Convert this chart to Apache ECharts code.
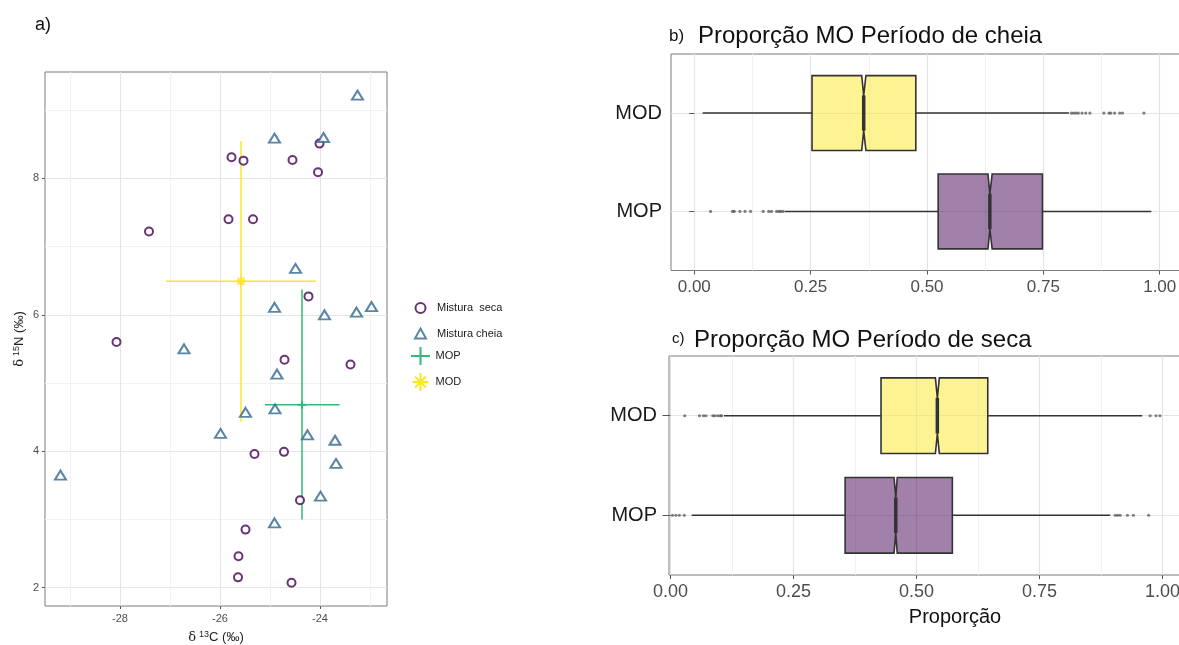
<!DOCTYPE html>
<html><head><meta charset="utf-8">
<script src="https://cdn.jsdelivr.net/npm/echarts@6/dist/echarts.min.js"></script>
<style>html,body{margin:0;padding:0;background:#fff}#c{width:1179px;height:645px}</style>
</head><body><div id="c"></div>
<script>
// ---------- Panel a) data ----------
const SECA_C13 = [-27.42,-25.77,-25.53,-24.55,-24.01,-24.04,-25.83,-25.34,-24.23,-28.07,-24.71,-23.39,-25.31,-24.72,-24.40,-25.49,-25.63,-25.64,-24.57];
const SECA_N15 = [7.22,8.31,8.26,8.27,8.51,8.09,7.40,7.40,6.27,5.60,5.34,5.27,3.96,3.99,3.28,2.85,2.46,2.15,2.07];
const CHEIA_C13 = [-23.25,-24.91,-23.93,-24.49,-24.91,-23.91,-23.27,-22.97,-26.72,-24.86,-25.49,-24.90,-25.99,-24.25,-23.70,-23.68,-29.19,-23.99,-24.91];
const CHEIA_N15 = [9.22,8.59,8.60,6.68,6.11,6.00,6.04,6.12,5.50,5.13,4.57,4.62,4.26,4.24,4.16,3.82,3.65,3.34,2.95];
// sources: [mean C13, mean N15, C13 low, C13 high, N15 low, N15 high]
const MOP_SRC = [-24.36, 4.68, -25.10, -23.61, 3.00, 6.37];
const MOD_SRC = [-25.58, 6.49, -27.08, -24.08, 4.43, 8.55];
const X_TICKS_A = [-28, -26, -24];
const X_MINOR_A = [-29, -27, -25, -23];
const Y_TICKS_A = [2, 4, 6, 8];
const Y_MINOR_A = [3, 5, 7, 9];

// ---------- Panels b) c) data ----------
const CATS = ['MOP', 'MOD'];            // y position 1, 2
const PROP_TICKS = [0, 0.25, 0.5, 0.75, 1];
const PROP_MINOR = [0.125, 0.375, 0.625, 0.875];
// [whisker low, Q1, notch low, median, notch high, Q3, whisker high]
const B_MOD = [0.018, 0.253, 0.3597, 0.364, 0.3688, 0.476, 0.805];
const B_MOP = [0.195, 0.524, 0.631, 0.635, 0.640, 0.748, 0.982];
const C_MOD = [0.109, 0.428, 0.5385, 0.5425, 0.5466, 0.645, 0.959];
const C_MOP = [0.043, 0.355, 0.4545, 0.458, 0.461, 0.573, 0.894];
const B_MOD_OUT = [0.810,0.815,0.820,0.825,0.833,0.841,0.850,0.880,0.891,0.895,0.903,0.914,0.920,0.966];
const B_MOP_OUT = [0.035,0.082,0.086,0.098,0.109,0.121,0.148,0.160,0.166,0.177,0.182,0.186,0.191];
const C_MOD_OUT = [0.029,0.059,0.067,0.072,0.086,0.090,0.096,0.101,0.104,0.975,0.987,0.995];
const C_MOP_OUT = [0.004,0.011,0.018,0.028,0.904,0.909,0.914,0.929,0.941,0.972];

const FONT = 'Liberation Sans, Arial, sans-serif';
const COL_SECA = '#440154', COL_CHEIA = '#31688E', COL_MOP = '#35B779', COL_MOD = '#FDE725';
const FILL_MOD = 'rgba(253,231,37,0.5)', FILL_MOP = 'rgba(68,1,84,0.5)';
const GRID_MAJ = '#E4E4E4', GRID_MIN = '#F1F1F1', BORDER = '#7a7a7a';

function renderCross(params, api) {
  const x = api.value(0), y = api.value(1);
  const xl = api.value(2), xh = api.value(3), yl = api.value(4), yh = api.value(5);
  const col = api.visual('color');
  const a = api.coord([xl, y]), b = api.coord([xh, y]);
  const c = api.coord([x, yl]), d = api.coord([x, yh]);
  const m = api.coord([x, y]);
  const st = {stroke: col, lineWidth: 1.5};
  const ch = [
    {type: 'line', shape: {x1: a[0], y1: a[1], x2: b[0], y2: b[1]}, style: st},
    {type: 'line', shape: {x1: c[0], y1: c[1], x2: d[0], y2: d[1]}, style: st}
  ];
  if (params.seriesName === 'MOD') {
    const r = 3.5;
    ch.push({type: 'line', shape: {x1: m[0]-r, y1: m[1]-r, x2: m[0]+r, y2: m[1]+r}, style: st});
    ch.push({type: 'line', shape: {x1: m[0]-r, y1: m[1]+r, x2: m[0]+r, y2: m[1]-r}, style: st});
    ch.push({type: 'line', shape: {x1: m[0]-4.5, y1: m[1], x2: m[0]+4.5, y2: m[1]}, style: {stroke: col, lineWidth: 2.5}});
    ch.push({type: 'line', shape: {x1: m[0], y1: m[1]-4.5, x2: m[0], y2: m[1]+4.5}, style: {stroke: col, lineWidth: 2.5}});
  } else {
    ch.push({type: 'line', shape: {x1: m[0]-4, y1: m[1], x2: m[0]+4, y2: m[1]}, style: {stroke: col, lineWidth: 2}});
    ch.push({type: 'line', shape: {x1: m[0], y1: m[1]-4, x2: m[0], y2: m[1]+4}, style: {stroke: col, lineWidth: 2}});
  }
  return {type: 'group', children: ch};
}

function renderBox(params, api) {
  const c = api.value(0);
  const wl = api.value(1), q1 = api.value(2), nl = api.value(3), md = api.value(4),
        nh = api.value(5), q3 = api.value(6), wh = api.value(7);
  const H = 0.38, h = 0.18;
  const P = (x, y) => api.coord([x, y]);
  const pts = [P(q1, c+H), P(nl, c+H), P(md, c+h), P(nh, c+H), P(q3, c+H),
               P(q3, c-H), P(nh, c-H), P(md, c-h), P(nl, c-H), P(q1, c-H)];
  const stroke = '#333333';
  const w1 = P(wl, c), w2 = P(q1, c), w3 = P(q3, c), w4 = P(wh, c);
  const m1 = P(md, c+h), m2 = P(md, c-h);
  return {type: 'group', children: [
    {type: 'line', shape: {x1: w1[0], y1: w1[1], x2: w2[0], y2: w2[1]}, style: {stroke, lineWidth: 1.6}},
    {type: 'line', shape: {x1: w3[0], y1: w3[1], x2: w4[0], y2: w4[1]}, style: {stroke, lineWidth: 1.6}},
    {type: 'polygon', shape: {points: pts}, style: {fill: api.visual('color'), stroke, lineWidth: 1.6}},
    {type: 'line', shape: {x1: m1[0], y1: m1[1], x2: m2[0], y2: m2[1]}, style: {stroke, lineWidth: 3.5}}
  ]};
}

const tickLab = {color: '#4D4D4D', fontFamily: FONT};

function propX(gridIndex, minV, fs) {
  return [
    {gridIndex, type: 'value', min: minV, max: 1.05,
     axisLine: {show: false},
     axisTick: {customValues: PROP_TICKS, length: 4, lineStyle: {color: '#555'}},
     axisLabel: Object.assign({customValues: PROP_TICKS, fontSize: fs, margin: 8, formatter: v => v.toFixed(2)}, tickLab),
     splitLine: {show: true, lineStyle: {color: GRID_MAJ, width: 1.2}}},
    {gridIndex, type: 'value', min: minV, max: 1.05, position: 'bottom',
     axisLine: {show: false}, axisTick: {show: false, customValues: PROP_MINOR},
     axisLabel: {show: false, customValues: PROP_MINOR},
     splitLine: {show: true, lineStyle: {color: GRID_MIN, width: 1}}}
  ];
}
function propY(gridIndex, margin, tickLen) {
  return {gridIndex, type: 'value', min: 0.4, max: 2.6,
    axisLine: {show: false},
    axisTick: {customValues: [1, 2], length: tickLen, lineStyle: {color: '#555'}},
    axisLabel: {customValues: [1, 2], fontSize: 20, color: '#1a1a1a', fontFamily: FONT, margin,
                formatter: v => CATS[Math.round(v) - 1]},
    splitLine: {show: true, lineStyle: {color: GRID_MAJ, width: 1.2}}};
}

const outSeries = (xi, yi, arr, cat) => ({
  type: 'scatter', xAxisIndex: xi, yAxisIndex: yi, silent: true,
  symbol: 'circle', symbolSize: 3.2,
  itemStyle: {color: 'rgba(50,50,50,0.75)'},
  data: arr.map(v => [v, cat]), z: 3
});
const boxSeries = (xi, yi, mop, mod) => ({
  type: 'custom', xAxisIndex: xi, yAxisIndex: yi, silent: true,
  renderItem: renderBox,
  encode: {x: [1,2,3,4,5,6,7], y: 0},
  data: [
    {value: [1].concat(mop), itemStyle: {color: FILL_MOP}},
    {value: [2].concat(mod), itemStyle: {color: FILL_MOD}}
  ], z: 2
});

const gridBase = {show: true, borderColor: BORDER, borderWidth: 1, containLabel: false, outerBoundsMode: 'none'};

const option = {
  animation: false,
  backgroundColor: '#fff',
  textStyle: {fontFamily: FONT},
  title: [
    {text: 'a)', left: 35, top: 16, padding: 0, textStyle: {fontSize: 18, fontWeight: 'normal', color: '#111', fontFamily: FONT}},
    {text: 'b)', left: 669, top: 28, padding: 0, textStyle: {fontSize: 17, fontWeight: 'normal', color: '#111', fontFamily: FONT}},
    {text: 'Proporção MO Período de cheia', left: 698, top: 24, padding: 0, textStyle: {fontSize: 24, fontWeight: 'normal', color: '#111', fontFamily: FONT}},
    {text: 'c)', left: 672, top: 331, padding: 0, textStyle: {fontSize: 15, fontWeight: 'normal', color: '#111', fontFamily: FONT}},
    {text: 'Proporção MO Período de seca', left: 694, top: 328, padding: 0, textStyle: {fontSize: 24, fontWeight: 'normal', color: '#111', fontFamily: FONT}},
    {text: 'Proporção', left: 955, top: 607, textAlign: 'center', padding: 0, textStyle: {fontSize: 20, fontWeight: 'normal', color: '#111', fontFamily: FONT}}
  ],
  legend: [
    {data: ['Mistura  seca', 'Mistura cheia'], orient: 'vertical', left: 414, top: 302,
     itemWidth: 11, itemHeight: 10, itemGap: 13.5, padding: 0, selectedMode: false,
     itemStyle: {borderWidth: 2},
     textStyle: {fontSize: 11, color: '#1a1a1a', fontFamily: FONT, padding: [0, 0, 0, 6]}},
    {data: [
       {name: 'MOP', icon: 'path://M0,9L19,9M9.5,0L9.5,18', itemStyle: {color: 'transparent', borderColor: COL_MOP, borderWidth: 2}},
       {name: 'MOD', icon: 'path://M1.5,9L17.5,9M9.5,0L9.5,18M4,3.5L15,14.5M4,14.5L15,3.5', itemStyle: {color: 'transparent', borderColor: COL_MOD, borderWidth: 2}}
     ], orient: 'vertical', left: 410, top: 346,
     itemWidth: 20, itemHeight: 18, itemGap: 6, padding: 0, selectedMode: false,
     textStyle: {fontSize: 11, color: '#1a1a1a', fontFamily: FONT}}
  ],
  grid: [
    Object.assign({left: 45, top: 72, width: 342, height: 534}, gridBase),
    Object.assign({left: 671, top: 54, width: 512, height: 216.5}, gridBase),
    Object.assign({left: 669, top: 356, width: 518, height: 219}, gridBase)
  ],
  xAxis: [
    {gridIndex: 0, type: 'value', min: -29.5, max: -22.66,
     axisLine: {show: false},
     axisTick: {customValues: X_TICKS_A, length: 3, lineStyle: {color: '#555'}},
     axisLabel: Object.assign({customValues: X_TICKS_A, fontSize: 11, margin: 7}, tickLab),
     splitLine: {show: true, lineStyle: {color: GRID_MAJ, width: 1}},
     name: '{d|δ}{s|13}C (‰)', nameLocation: 'middle', nameGap: 24,
     nameTextStyle: {fontSize: 13, color: '#222', fontFamily: FONT,
       rich: {d: {fontSize: 13, color: '#222', fontFamily: 'DejaVu Serif', padding: [0, 3, 0, 0]},
              s: {fontSize: 9, color: '#222', fontFamily: FONT, padding: [0, 0, 6, 0]}}}},
    {gridIndex: 0, type: 'value', min: -29.5, max: -22.66, position: 'bottom',
     axisLine: {show: false}, axisTick: {show: false, customValues: X_MINOR_A},
     axisLabel: {show: false, customValues: X_MINOR_A},
     splitLine: {show: true, lineStyle: {color: GRID_MIN, width: 1}}},
    ...propX(1, -0.05, 17),
    ...propX(2, -0.003, 18)
  ],
  yAxis: [
    {gridIndex: 0, type: 'value', min: 1.73, max: 9.56,
     axisLine: {show: false},
     axisTick: {customValues: Y_TICKS_A, length: 3, lineStyle: {color: '#555'}},
     axisLabel: Object.assign({customValues: Y_TICKS_A, fontSize: 11, margin: 6}, tickLab),
     splitLine: {show: true, lineStyle: {color: GRID_MAJ, width: 1}},
     name: '{d|δ}{s|15}N (‰)', nameLocation: 'middle', nameGap: 18,
     nameTextStyle: {fontSize: 13, color: '#222', fontFamily: FONT,
       rich: {d: {fontSize: 13, color: '#222', fontFamily: 'DejaVu Serif', padding: [0, 3, 0, 0]},
              s: {fontSize: 9, color: '#222', fontFamily: FONT, padding: [0, 0, 6, 0]}}}},
    {gridIndex: 0, type: 'value', min: 1.73, max: 9.56, position: 'left',
     axisLine: {show: false}, axisTick: {show: false, customValues: Y_MINOR_A},
     axisLabel: {show: false, customValues: Y_MINOR_A},
     splitLine: {show: true, lineStyle: {color: GRID_MIN, width: 1}}},
    propY(1, 9, 5),
    propY(2, 12, 8)
  ],
  series: [
    {name: 'Mistura  seca', type: 'scatter', xAxisIndex: 0, yAxisIndex: 0,
     symbol: 'emptyCircle', symbolSize: 8,
     itemStyle: {color: COL_SECA, borderColor: COL_SECA, borderWidth: 2.2},
     data: SECA_C13.map((x, i) => [x, SECA_N15[i]]), z: 4},
    {name: 'Mistura cheia', type: 'scatter', xAxisIndex: 0, yAxisIndex: 0,
     symbol: 'emptyTriangle', symbolSize: [11, 9],
     itemStyle: {color: COL_CHEIA, borderColor: COL_CHEIA, borderWidth: 2},
     data: CHEIA_C13.map((x, i) => [x, CHEIA_N15[i]]), z: 4},
    {name: 'MOP', type: 'custom', xAxisIndex: 0, yAxisIndex: 0, renderItem: renderCross,
     itemStyle: {color: COL_MOP}, encode: {x: [0, 2, 3], y: [1, 4, 5]}, data: [MOP_SRC], z: 3},
    {name: 'MOD', type: 'custom', xAxisIndex: 0, yAxisIndex: 0, renderItem: renderCross,
     itemStyle: {color: COL_MOD}, encode: {x: [0, 2, 3], y: [1, 4, 5]}, data: [MOD_SRC], z: 3},
    boxSeries(2, 2, B_MOP, B_MOD),
    outSeries(2, 2, B_MOD_OUT, 2),
    outSeries(2, 2, B_MOP_OUT, 1),
    boxSeries(4, 3, C_MOP, C_MOD),
    outSeries(4, 3, C_MOD_OUT, 2),
    outSeries(4, 3, C_MOP_OUT, 1)
  ]
};
const chart = echarts.init(document.getElementById('c'), null, {renderer: 'canvas'});
chart.setOption(option);
</script>
</body></html>
